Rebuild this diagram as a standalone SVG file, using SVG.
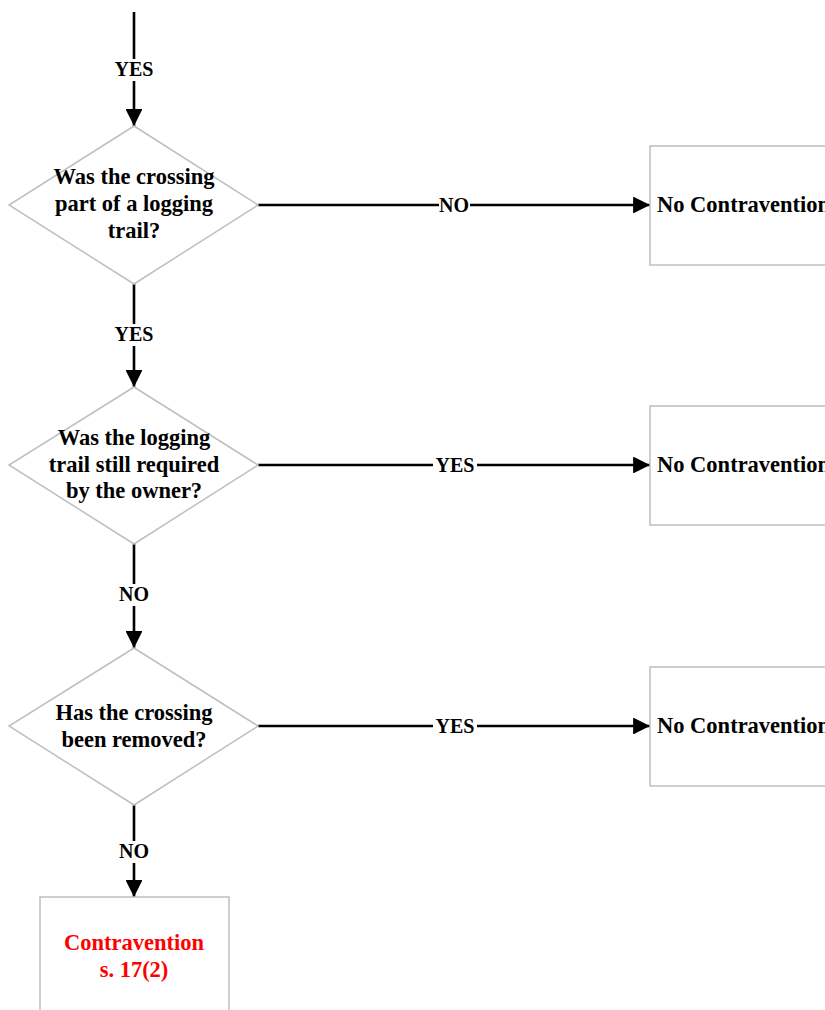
<svg xmlns="http://www.w3.org/2000/svg" width="825" height="1010" viewBox="0 0 825 1010">
  <defs>
    <marker id="arrow" viewBox="0 0 10 10" refX="10" refY="5" markerWidth="6.5" markerHeight="6.5" markerUnits="strokeWidth" orient="auto">
      <path d="M0,0 L10,5 L0,10 Z" fill="#000"/>
    </marker>
  </defs>
  <style>
    .shape { fill: #fff; stroke: #bfbfbf; stroke-width: 1.5; }
    .txt { font-family: "Liberation Serif", "Times New Roman", serif; font-weight: bold; font-size: 22.5px; fill: #000; text-anchor: middle; }
    .lbl { font-size: 20px; }
    .red { fill: #ff0000; }
    .left { text-anchor: start; }
    .edge { stroke: #000; stroke-width: 2.6; fill: none; }
    .lblbg { fill: #fff; }
  </style>
  <rect width="825" height="1010" fill="#fff"/>

  <g id="connectors">
    <line class="edge" x1="134" y1="12" x2="134" y2="126" marker-end="url(#arrow)"/>
    <line class="edge" x1="258" y1="205" x2="650" y2="205" marker-end="url(#arrow)"/>
    <line class="edge" x1="134" y1="284" x2="134" y2="387" marker-end="url(#arrow)"/>
    <line class="edge" x1="258" y1="465" x2="650" y2="465" marker-end="url(#arrow)"/>
    <line class="edge" x1="134" y1="544" x2="134" y2="648" marker-end="url(#arrow)"/>
    <line class="edge" x1="258" y1="726" x2="650" y2="726" marker-end="url(#arrow)"/>
    <line class="edge" x1="134" y1="805" x2="134" y2="897" marker-end="url(#arrow)"/>

    <!-- edge labels -->
    <rect class="lblbg" x="112" y="59" width="44" height="22"/>
    <text class="txt lbl" x="134" y="76">YES</text>
    <rect class="lblbg" x="439" y="195" width="31" height="22"/>
    <text class="txt lbl" x="454" y="212">NO</text>
    <rect class="lblbg" x="112" y="324" width="44" height="22"/>
    <text class="txt lbl" x="134" y="341">YES</text>
    <rect class="lblbg" x="433" y="455" width="44" height="22"/>
    <text class="txt lbl" x="455" y="472">YES</text>
    <rect class="lblbg" x="118" y="584" width="31" height="22"/>
    <text class="txt lbl" x="134" y="601">NO</text>
    <rect class="lblbg" x="433" y="716" width="44" height="22"/>
    <text class="txt lbl" x="455" y="733">YES</text>
    <rect class="lblbg" x="118" y="841" width="31" height="22"/>
    <text class="txt lbl" x="134" y="858">NO</text>
  </g>

  <g id="q-logging-trail">
    <polygon class="shape" points="134,126 258,205 134,284 9,205"/>
    <text class="txt" x="134" y="184">Was the crossing</text>
    <text class="txt" x="134" y="211">part of a logging</text>
    <text class="txt" x="134" y="238">trail?</text>
  </g>

  <g id="result-1">
    <rect class="shape" x="650" y="146" width="190" height="119"/>
    <text class="txt left" x="657" y="212">No Contravention</text>
  </g>

  <g id="q-still-required">
    <polygon class="shape" points="134,387 258,465 134,544 9,465"/>
    <text class="txt" x="134" y="445">Was the logging</text>
    <text class="txt" x="134" y="472">trail still required</text>
    <text class="txt" x="134" y="498">by the owner?</text>
  </g>

  <g id="result-2">
    <rect class="shape" x="650" y="406" width="190" height="119"/>
    <text class="txt left" x="657" y="472">No Contravention</text>
  </g>

  <g id="q-removed">
    <polygon class="shape" points="134,648 258,726 134,805 9,726"/>
    <text class="txt" x="134" y="720">Has the crossing</text>
    <text class="txt" x="134" y="747">been removed?</text>
  </g>

  <g id="result-3">
    <rect class="shape" x="650" y="667" width="190" height="119"/>
    <text class="txt left" x="657" y="733">No Contravention</text>
  </g>

  <g id="contravention">
    <rect class="shape" x="40" y="897" width="189" height="130"/>
    <text class="txt red" x="134" y="950">Contravention</text>
    <text class="txt red" x="134" y="977">s. 17(2)</text>
  </g>
</svg>
